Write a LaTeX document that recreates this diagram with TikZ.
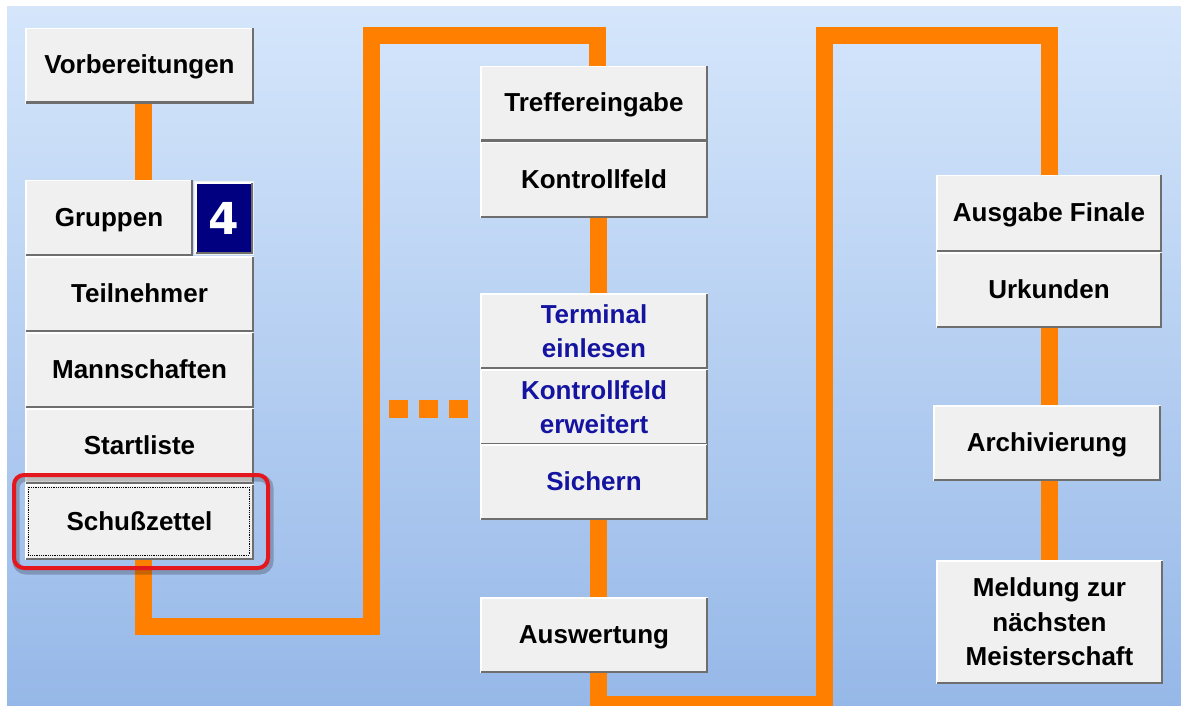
\documentclass[tikz,border=0pt]{standalone}
\usepackage{fontspec}
\setmainfont{Liberation Sans}
\newfontfamily\dejab{DejaVu Sans}
\definecolor{org}{RGB}{255,128,0}
\definecolor{bgtop}{RGB}{213,230,251}
\definecolor{bgbot}{RGB}{150,184,232}
\definecolor{btnfill}{RGB}{240,240,240}
\definecolor{btndark}{RGB}{110,110,110}
\definecolor{navyb}{RGB}{0,0,128}
\definecolor{bluetxt}{RGB}{20,20,160}
\definecolor{redframe}{RGB}{228,22,30}
\pgfdeclarelayer{bg}
\pgfsetlayers{bg,main}
\begin{document}
\begin{tikzpicture}[x=1pt,y=-1pt,
  oline/.style={draw=org,line width=17pt,line cap=butt,line join=miter},
  btn/.style={fill=btnfill,inner sep=0pt,outer sep=0pt,align=center,text=black,
    font=\fontsize{26}{34.5}\selectfont\bfseries},
  one/.style={text height=20pt,text depth=4pt},
  bluebtn/.style={btn,text=bluetxt},
  wh/.style 2 args={minimum width=#1,minimum height=#2},
  dot/.style={fill=org}
]
\useasboundingbox (0,0) rectangle (1181,706);
% left column
\node[btn,one,wh={229pt}{76pt}] (vor) at (139.5,66) {Vorbereitungen};
\node[btn,one,wh={168pt}{76pt}] (grp) at (109,218) {Gruppen};
\node[fill=navyb,draw=btnfill,line width=2pt,inner sep=0pt,outer sep=0pt,wh={58pt}{72pt},
  text=white,font=\dejab\bfseries\fontsize{44}{44}\selectfont] (four) at (224,218) {4};
\node[btn,one,wh={229pt}{76pt}] (teil) at (139.5,294) {Teilnehmer};
\node[btn,one,wh={229pt}{76pt}] (mann) at (139.5,370) {Mannschaften};
\node[btn,one,wh={229pt}{76pt}] (start) at (139.5,446) {Startliste};
\node[btn,one,wh={229pt}{76pt}] (schuss) at (139.5,522) {Schußzettel};
% middle column
\node[btn,one,wh={228pt}{76pt}] (treff) at (594,104) {Treffereingabe};
\node[btn,one,wh={228pt}{76pt}] (kontr) at (594,180) {Kontrollfeld};
\node[bluebtn,wh={228pt}{76pt}] (term) at (594,331) {Terminal\\einlesen};
\node[bluebtn,wh={228pt}{76pt}] (kerw) at (594,407) {Kontrollfeld\\erweitert};
\node[bluebtn,one,wh={228pt}{76pt}] (sich) at (594,482) {Sichern};
\node[btn,one,wh={228pt}{76pt}] (ausw) at (594,635) {Auswertung};
% right column
\node[btn,one,wh={226pt}{77pt}] (ausg) at (1049,213.5) {Ausgabe Finale};
\node[btn,one,wh={226pt}{76pt}] (urk) at (1049,290) {Urkunden};
\node[btn,one,wh={228pt}{76pt}] (arch) at (1047,443) {Archivierung};
\node[btn,wh={227pt}{124pt}] (meld) at (1049.5,622) {Meldung zur\\nächsten\\Meisterschaft};
% bevels
\foreach \n in {vor,grp,four,teil,mann,start,schuss,treff,kontr,term,kerw,sich,ausw,ausg,urk,arch,meld}{
  \draw[line width=1.5pt,white] ([xshift=0.75pt,yshift=1pt]\n.south west) -- ([xshift=0.75pt,yshift=-0.75pt]\n.north west) -- ([xshift=-1pt,yshift=-0.75pt]\n.north east);
  \draw[line width=2.5pt,btndark] ([xshift=-1.25pt,yshift=-0.5pt]\n.north east) -- ([xshift=-1.25pt,yshift=1.25pt]\n.south east) -- ([xshift=0.5pt,yshift=1.25pt]\n.south west);
}
% focus and highlight
\draw[densely dotted,line width=0.8pt] (28,487) rectangle (249,555);
\draw[black,opacity=0.22,line width=7pt,rounded corners=10pt] (16,478) rectangle (270,571);
\draw[redframe,line width=4pt,rounded corners=10pt] (14,475) rectangle (268,568);
% connectors
\coordinate (c1) at (371,36);
\coordinate (c2) at (824,36);
\begin{pgfonlayer}{bg}
\fill[white] (0,0) rectangle (1181,706);
\shade[top color=bgtop,bottom color=bgbot] (7,7) rectangle (1182,707);
\draw[oline] ([xshift=4pt]vor.south) -- ([xshift=4pt]vor.south |- grp.north);
\draw[oline] ([xshift=4pt]schuss.south) -- ++(0,66) -| (c1) -| ([xshift=3pt]treff.north);
\draw[oline] ([xshift=4pt]kontr.south) -- ([xshift=4pt]term.north);
\draw[oline] ([xshift=4pt]sich.south) -- ([xshift=4pt]ausw.north);
\draw[oline] ([xshift=4pt]ausw.south) -- ++(0,31) -| (c2) -| (ausg.north);
\draw[oline] (urk.south) -- (urk.south |- arch.north);
\draw[oline] (arch.south -| urk.south) -- (urk.south |- meld.north);
\end{pgfonlayer}
% dotted connector
\fill[dot] (389,400) rectangle (408,418);
\fill[dot] (419,400) rectangle (438,418);
\fill[dot] (449,400) rectangle (468,418);
\end{tikzpicture}
\end{document}
